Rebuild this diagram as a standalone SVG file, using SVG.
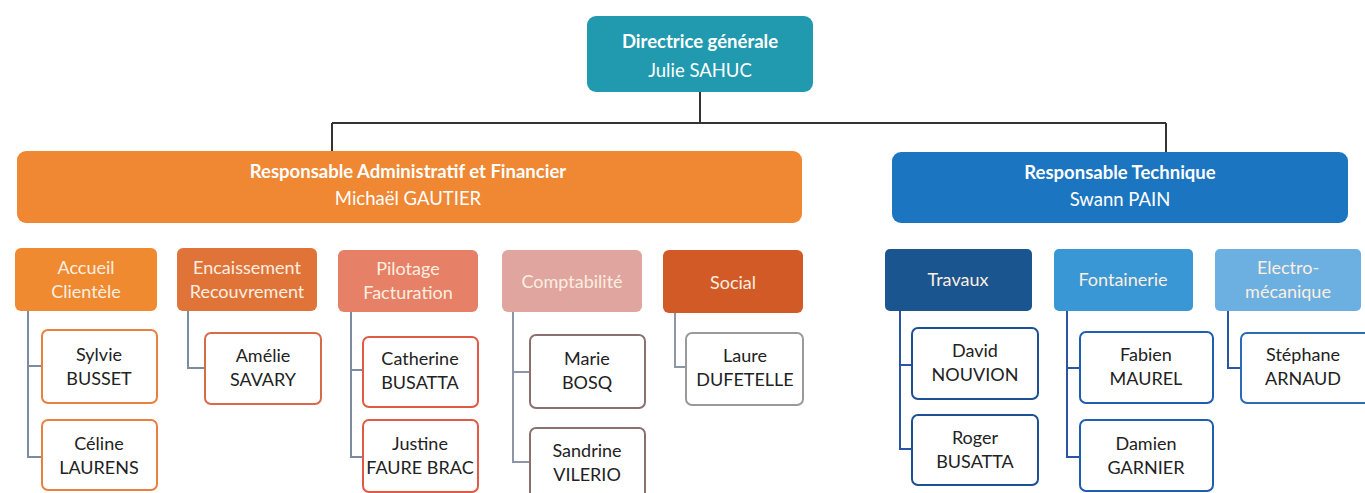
<svg xmlns="http://www.w3.org/2000/svg" width="1365" height="493" viewBox="0 0 1365 493">
<style>
text{font-family:Lato,"Open Sans","Liberation Sans",sans-serif;text-anchor:middle}
.hd{font-size:18.5px;font-weight:bold;fill:#ffffff}
.hn{font-size:18.5px;fill:#ffffff}
.dp{font-size:18px;fill:#fdeee0}
.em{font-size:18px;fill:#222222}
.eb{fill:#ffffff;stroke-width:2}
.c{fill:none;stroke-width:2}
</style>
<rect width="1365" height="493" fill="#ffffff"/>
<g id="connectors">
<path class="c" stroke="#333333" stroke-width="1.5" d="M700,92 V123 M332,123 H1166 M332,123 V151 M1166,123 V152"/>
<path class="c" stroke="#7c8aa2" d="M28,311 V457 H42 M28,366 H42"/>
<path class="c" stroke="#7c8aa2" d="M188,311 V368 H205"/>
<path class="c" stroke="#7c8aa2" d="M351,312 V457 H363 M351,370 H363"/>
<path class="c" stroke="#8d96a6" d="M513,312 V462 H530 M513,372 H530"/>
<path class="c" stroke="#8d96a6" d="M675,313 V367 H686"/>
<path class="c" stroke="#2a55a6" stroke-width="2.5" d="M900,311 V449 H912 M900,365 H912"/>
<path class="c" stroke="#2a55a6" stroke-width="2.5" d="M1067,311 V457 H1080 M1067,368 H1080"/>
<path class="c" stroke="#2a55a6" stroke-width="2.5" d="M1228,311 V368 H1241"/>
</g>
<g id="directrice">
<rect x="587" y="16" width="226" height="76" rx="9" fill="#2199af"/>
<text class="hd" x="700" y="48">Directrice générale</text>
<text class="hn" x="700" y="77">Julie SAHUC</text>
</g>
<g id="raf">
<rect x="17" y="151" width="785" height="72" rx="9" fill="#ef8733"/>
<text class="hd" x="408" y="178">Responsable Administratif et Financier</text>
<text class="hn" x="408" y="205">Michaël GAUTIER</text>
</g>
<g id="rt">
<rect x="892" y="152" width="456" height="71" rx="9" fill="#1b75c0"/>
<text class="hd" x="1120" y="179">Responsable Technique</text>
<text class="hn" x="1120" y="206">Swann PAIN</text>
</g>
<g id="accueil">
<rect x="15" y="248" width="142" height="63" rx="6" fill="#ef8a30"/>
<text class="dp" x="86" y="274">Accueil</text>
<text class="dp" x="86" y="298">Clientèle</text>
</g>
<g id="encaissement">
<rect x="177" y="248" width="140" height="63" rx="6" fill="#df7338"/>
<text class="dp" x="247" y="274">Encaissement</text>
<text class="dp" x="247" y="298">Recouvrement</text>
</g>
<g id="pilotage">
<rect x="338" y="250" width="140" height="62" rx="6" fill="#e68066"/>
<text class="dp" x="408" y="275">Pilotage</text>
<text class="dp" x="408" y="299">Facturation</text>
</g>
<g id="comptabilite">
<rect x="502" y="250" width="140" height="62" rx="6" fill="#e0a59e"/>
<text class="dp" x="572" y="288" fill="#fbeeee">Comptabilité</text>
</g>
<g id="social">
<rect x="663" y="250" width="140" height="63" rx="6" fill="#d15a26"/>
<text class="dp" x="733" y="289">Social</text>
</g>
<g id="travaux">
<rect x="885" y="249" width="147" height="62" rx="5" fill="#1a5590"/>
<text class="dp" x="958" y="286" fill="#e8f0fa">Travaux</text>
</g>
<g id="fontainerie">
<rect x="1054" y="249" width="139" height="62" rx="5" fill="#3a97d6"/>
<text class="dp" x="1123" y="286" fill="#eef6fd">Fontainerie</text>
</g>
<g id="electro">
<rect x="1215" y="249" width="146" height="62" rx="5" fill="#6cb0e2"/>
<text class="dp" x="1288" y="274" fill="#eef6fd">Electro-</text>
<text class="dp" x="1288" y="298" fill="#eef6fd">mécanique</text>
</g>
<g id="sylvie">
<rect class="eb" x="42" y="330" width="115" height="73" rx="6" stroke="#e98040"/>
<text class="em" x="99" y="361">Sylvie</text>
<text class="em" x="99" y="385">BUSSET</text>
</g>
<g id="celine">
<rect class="eb" x="42" y="420" width="115" height="70" rx="6" stroke="#e98040"/>
<text class="em" x="99" y="450">Céline</text>
<text class="em" x="99" y="474">LAURENS</text>
</g>
<g id="amelie">
<rect class="eb" x="205" y="333" width="116" height="71" rx="6" stroke="#d86a48"/>
<text class="em" x="263" y="362">Amélie</text>
<text class="em" x="263" y="386">SAVARY</text>
</g>
<g id="catherine">
<rect class="eb" x="363" y="337" width="115" height="70" rx="6" stroke="#e05a45"/>
<text class="em" x="420" y="365">Catherine</text>
<text class="em" x="420" y="389">BUSATTA</text>
</g>
<g id="justine">
<rect class="eb" x="363" y="420" width="115" height="72" rx="6" stroke="#e05a45"/>
<text class="em" x="420" y="450">Justine</text>
<text class="em" x="420" y="474">FAURE BRAC</text>
</g>
<g id="marie">
<rect class="eb" x="530" y="335" width="115" height="73" rx="6" stroke="#8a7070"/>
<text class="em" x="587" y="365">Marie</text>
<text class="em" x="587" y="389">BOSQ</text>
</g>
<g id="sandrine">
<rect class="eb" x="530" y="428" width="115" height="75" rx="6" stroke="#8a7070"/>
<text class="em" x="587" y="457">Sandrine</text>
<text class="em" x="587" y="481">VILERIO</text>
</g>
<g id="laure">
<rect class="eb" x="686" y="333" width="117" height="72" rx="6" stroke="#9a9a9a"/>
<text class="em" x="745" y="362">Laure</text>
<text class="em" x="745" y="386">DUFETELLE</text>
</g>
<g id="david">
<rect class="eb" x="912" y="328" width="126" height="71" rx="6" stroke="#1c4f94"/>
<text class="em" x="975" y="357">David</text>
<text class="em" x="975" y="381">NOUVION</text>
</g>
<g id="roger">
<rect class="eb" x="912" y="415" width="126" height="70" rx="6" stroke="#1c4f94"/>
<text class="em" x="975" y="444">Roger</text>
<text class="em" x="975" y="468">BUSATTA</text>
</g>
<g id="fabien">
<rect class="eb" x="1080" y="332" width="133" height="71" rx="6" stroke="#1f5db0"/>
<text class="em" x="1146" y="361">Fabien</text>
<text class="em" x="1146" y="385">MAUREL</text>
</g>
<g id="damien">
<rect class="eb" x="1080" y="420" width="133" height="71" rx="6" stroke="#1f5db0"/>
<text class="em" x="1146" y="450">Damien</text>
<text class="em" x="1146" y="474">GARNIER</text>
</g>
<g id="stephane">
<rect class="eb" x="1241" y="333" width="130" height="70" rx="6" stroke="#2a6ab8"/>
<text class="em" x="1303" y="361">Stéphane</text>
<text class="em" x="1303" y="385">ARNAUD</text>
</g>
</svg>
